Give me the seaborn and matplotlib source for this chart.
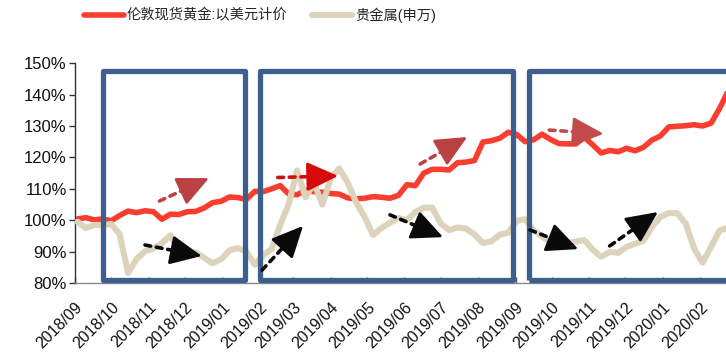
import matplotlib
matplotlib.use("Agg")
import matplotlib.pyplot as plt
import matplotlib.dates as mdates
import matplotlib.ticker as mticker
from matplotlib.patches import Rectangle
import pandas as pd
import seaborn as sns

# Weekly observations, indexed to 100% at the start of the window
weeks = pd.date_range("2018-09-03", periods=78, freq="7D")

gold_usd = [
    100.4, 100.8, 100.1, 100.4, 99.8, 101.5, 102.9, 102.4, 103.0, 102.7,
    100.3, 101.9, 101.8, 102.7, 102.8, 103.9, 105.6, 106.0, 107.4, 107.2,
    106.6, 109.2, 109.1, 110.0, 111.0, 108.4, 108.1, 109.5, 109.1, 108.9,
    108.5, 108.3, 107.1, 106.8, 107.0, 107.5, 107.3, 107.0, 107.9, 111.3,
    111.0, 115.0, 116.2, 116.2, 116.0, 118.3, 118.5, 119.0, 124.9, 125.3,
    126.1, 128.0, 127.3, 125.0, 125.6, 127.4, 125.7, 124.4, 124.3, 124.3,
    126.4, 124.0, 121.4, 122.2, 121.8, 122.9, 122.1, 123.2, 125.5, 126.8,
    129.7, 129.9, 130.1, 130.4, 130.0, 130.9, 135.5, 141.0,
]

precious_metals = [
    99.5, 97.5, 98.5, 98.4, 98.8, 95.5, 83.2, 87.6, 90.1, 91.0,
    92.7, 95.2, 90.0, 90.1, 89.7, 88.0, 86.3, 87.5, 90.4, 91.1,
    90.0, 85.8, 88.9, 90.8, 98.5, 105.0, 115.8, 107.3, 111.8, 105.0,
    113.5, 116.5, 111.9, 105.6, 101.0, 95.3, 97.5, 99.2, 100.7, 100.0,
    102.6, 104.0, 104.0, 99.0, 96.8, 97.7, 97.3, 95.5, 92.7, 93.3,
    95.4, 96.0, 99.8, 100.3, 96.8, 94.8, 93.0, 92.7, 92.7, 93.2,
    93.7, 90.6, 88.4, 89.9, 89.6, 91.5, 92.5, 93.5, 97.8, 101.0,
    102.3, 102.2, 99.0, 91.0, 86.5, 91.5, 96.7, 97.6,
]

series_names = ["伦敦现货黄金:以美元计价", "贵金属(申万)"]
series_colors = ["#FA3D2F", "#DDD3BC"]
y_ticks = [80, 90, 100, 110, 120, 130, 140, 150]

# Highlighted phases (start, end)
phases = [
    ("2018-09-24", "2019-01-20"),
    ("2019-02-01", "2019-08-30"),
    ("2019-09-12", "2020-03-25"),
]

# Trend arrows: (tail date, tail value, tip date, tip value, colour)
trend_arrows = [
    ("2018-11-10", 106.1, "2018-12-21", 113.4, "#BB4242"),
    ("2019-02-16", 113.6, "2019-04-07", 114.1, "#D60A0A"),
    ("2019-06-14", 117.9, "2019-07-23", 126.5, "#BB4242"),
    ("2019-09-29", 128.7, "2019-11-13", 127.5, "#BF4B4B"),
    ("2018-10-29", 92.1, "2018-12-15", 88.6, "#0A0A0A"),
    ("2019-02-03", 84.1, "2019-03-09", 98.2, "#0A0A0A"),
    ("2019-05-20", 101.7, "2019-07-03", 94.6, "#0A0A0A"),
    ("2019-09-13", 96.9, "2019-10-23", 90.8, "#0A0A0A"),
    ("2019-11-18", 91.8, "2019-12-28", 102.6, "#0A0A0A"),
]

sns.set_theme(style="white")
plt.rcParams["font.family"] = ["Liberation Sans", "Noto Sans CJK SC", "DejaVu Sans"]
plt.rcParams["axes.unicode_minus"] = False

fig = plt.figure(figsize=(7.26, 3.58), dpi=100)
ax = fig.add_axes([0.1033, 0.2095, 0.8967, 0.614])

sns.lineplot(x=weeks, y=gold_usd, ax=ax, color=series_colors[0], lw=4.0,
             label=series_names[0], zorder=2)
sns.lineplot(x=weeks, y=precious_metals, ax=ax, color=series_colors[1], lw=4.4,
             label=series_names[1], zorder=3)

ax.set_xlim(pd.Timestamp("2018-09-01"), pd.Timestamp("2020-02-22 10:00"))
ax.set_ylim(80, 150)
ax.set_yticks(y_ticks)
ax.yaxis.set_major_formatter(mticker.FuncFormatter(lambda v, _: f"{v:.0f}%"))
ax.xaxis.set_major_locator(mdates.MonthLocator())
ax.xaxis.set_major_formatter(mdates.DateFormatter("%Y/%m"))
ax.set_xlabel("")
ax.set_ylabel("")

for side in ("top", "right"):
    ax.spines[side].set_visible(False)
ax.spines["left"].set_color("#333333")
ax.spines["left"].set_linewidth(1.0)
ax.spines["bottom"].set_color("#888888")
ax.spines["bottom"].set_linewidth(1.0)

ax.tick_params(axis="y", direction="out", length=4, width=1, color="#333333",
               labelsize=12, labelcolor="#111111", pad=2, left=True)
ax.tick_params(axis="x", direction="in", length=4, width=1, color="#555555",
               labelsize=11.5, labelcolor="#111111", pad=12, bottom=True)
for lab in ax.get_xticklabels():
    lab.set_rotation(45)
    lab.set_ha("right")
    lab.set_va("top")
    lab.set_rotation_mode("anchor")

# Phase frames
for start, end in phases:
    x0 = mdates.date2num(pd.Timestamp(start))
    x1 = mdates.date2num(pd.Timestamp(end))
    ax.add_patch(Rectangle((x0, 81.0), x1 - x0, 66.5, fill=False,
                           edgecolor="#3D5F8E", lw=3.8, joinstyle="round",
                           zorder=4, clip_on=False))

# Trend arrows: dashed tail, solid filled head
for t_d, t_v, h_d, h_v, col in trend_arrows:
    tail = mdates.date2num(pd.Timestamp(t_d))
    tip = mdates.date2num(pd.Timestamp(h_d))
    mid_x = tail + 0.5 * (tip - tail)
    mid_v = t_v + 0.5 * (h_v - t_v)
    ax.annotate("", xy=(mid_x, mid_v), xytext=(tail, t_v),
                arrowprops=dict(arrowstyle="-", color=col,
                                lw=2.6, linestyle=(0, (1.6, 1.6)),
                                shrinkA=0, shrinkB=0),
                zorder=5)
    ax.annotate("", xy=(tip, h_v), xytext=(mid_x, mid_v),
                arrowprops=dict(arrowstyle="-|>,head_length=1.5,head_width=0.7",
                                mutation_scale=13, color=col,
                                lw=2.0, shrinkA=0, shrinkB=0),
                zorder=5)

handles, labels = ax.get_legend_handles_labels()
ax.get_legend().remove()
fig.legend(handles, labels, loc="center", bbox_to_anchor=(0.358, 0.958),
           ncol=2, frameon=False, fontsize=10.3, handlelength=2.8,
           handletextpad=0.2, columnspacing=1.7)

fig.savefig("out.png", dpi=100)
